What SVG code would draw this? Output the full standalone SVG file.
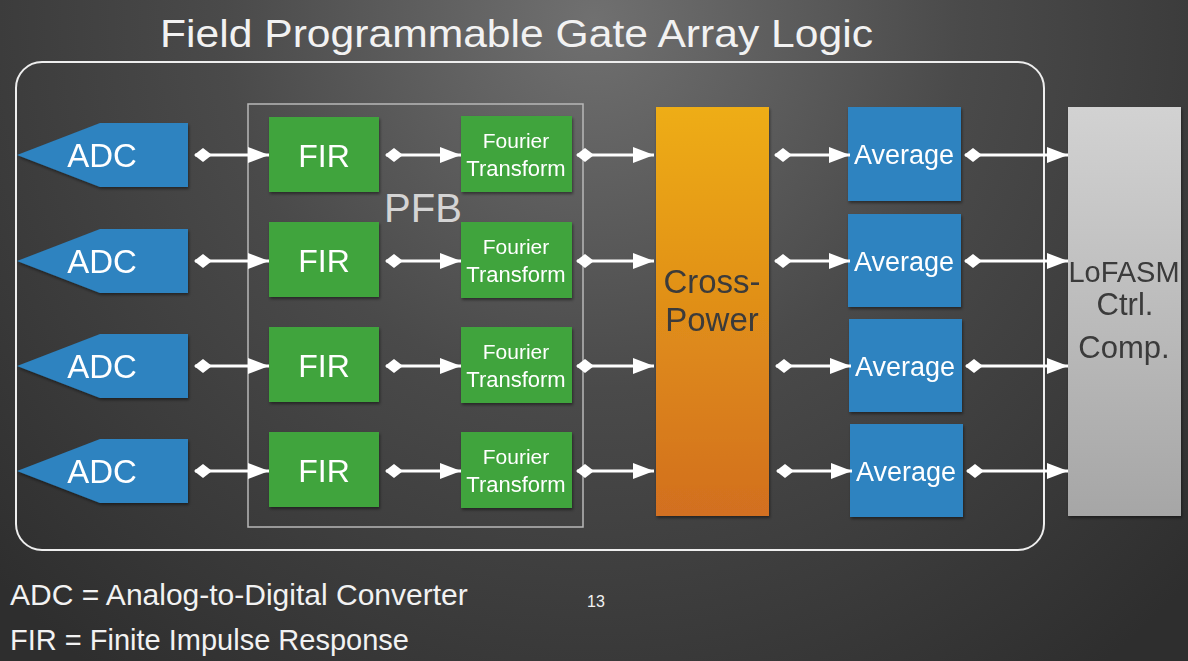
<svg xmlns="http://www.w3.org/2000/svg" width="1188" height="661" viewBox="0 0 1188 661">
<defs>
<radialGradient id="bg" cx="594" cy="20" r="820" gradientUnits="userSpaceOnUse">
<stop offset="0" stop-color="#707070"/>
<stop offset="0.45" stop-color="#4a4a4a"/>
<stop offset="1" stop-color="#2e2e2e"/>
</radialGradient>
<linearGradient id="orange" x1="0" y1="0" x2="0" y2="1">
<stop offset="0" stop-color="#eead12"/>
<stop offset="1" stop-color="#d26f20"/>
</linearGradient>
<linearGradient id="gray" x1="0" y1="0" x2="0" y2="1">
<stop offset="0" stop-color="#d2d2d2"/>
<stop offset="1" stop-color="#a6a6a6"/>
</linearGradient>
<filter id="sh" x="-10%" y="-10%" width="130%" height="130%">
<feDropShadow dx="1" dy="2" stdDeviation="1.5" flood-color="#000" flood-opacity="0.45"/>
</filter>
<marker id="dia" markerUnits="userSpaceOnUse" markerWidth="20" markerHeight="16" refX="2" refY="8" orient="auto" viewBox="0 0 20 16">
<path d="M1,8 L10,1 L19,8 L10,15 Z" fill="#ffffff"/>
</marker>
<marker id="arr" markerUnits="userSpaceOnUse" markerWidth="22" markerHeight="18" refX="21" refY="9" orient="auto" viewBox="0 0 22 18">
<path d="M0,1 L21,9 L0,17 Z" fill="#ffffff"/>
</marker>
<style>
.lbl{font-family:"Liberation Sans",Arial,sans-serif;fill:#ffffff;text-anchor:middle}
.dark{font-family:"Liberation Sans",Arial,sans-serif;fill:#3a3a3a;text-anchor:middle}
.blue{fill:#2d83c0}
.green{fill:#41a43d}
.conn line{stroke:#ffffff;stroke-width:3;marker-start:url(#dia);marker-end:url(#arr)}
.note{font-family:"Liberation Sans",Arial,sans-serif;fill:#f2f2f2}
</style>
</defs>
<rect width="1188" height="661" fill="url(#bg)"/>
<text class="note" x="160" y="47" font-size="39" fill="#ececec" textLength="713" lengthAdjust="spacingAndGlyphs">Field Programmable Gate Array Logic</text>
<rect id="fpga" x="16" y="62" width="1028" height="488" rx="26" fill="none" stroke="#eeeeee" stroke-width="2"/>
<g id="pfb">
<rect x="248" y="104" width="335" height="423" fill="none" stroke="#b8b8b8" stroke-width="1.5"/>
<text x="423" y="222" font-size="40" font-family="Liberation Sans,Arial,sans-serif" fill="#d4d4d4" text-anchor="middle">PFB</text>
</g>
<g id="adc1" filter="url(#sh)"><path class="blue" d="M17,155 L100,123 L188,123 L188,187 L100,187 Z"/><text class="lbl" x="102" y="167" font-size="33">ADC</text></g>
<g id="adc2" filter="url(#sh)"><path class="blue" d="M17,261 L100,229 L188,229 L188,293 L100,293 Z"/><text class="lbl" x="102" y="273" font-size="33">ADC</text></g>
<g id="adc3" filter="url(#sh)"><path class="blue" d="M17,366 L100,334 L188,334 L188,398 L100,398 Z"/><text class="lbl" x="102" y="378" font-size="33">ADC</text></g>
<g id="adc4" filter="url(#sh)"><path class="blue" d="M17,471 L100,439 L188,439 L188,503 L100,503 Z"/><text class="lbl" x="102" y="483" font-size="33">ADC</text></g>
<g id="fir1" filter="url(#sh)"><rect class="green" x="269" y="117" width="110" height="75"/><text class="lbl" x="324" y="167" font-size="32">FIR</text></g>
<g id="fir2" filter="url(#sh)"><rect class="green" x="269" y="222" width="110" height="75"/><text class="lbl" x="324" y="272" font-size="32">FIR</text></g>
<g id="fir3" filter="url(#sh)"><rect class="green" x="269" y="327" width="110" height="75"/><text class="lbl" x="324" y="377" font-size="32">FIR</text></g>
<g id="fir4" filter="url(#sh)"><rect class="green" x="269" y="432" width="110" height="75"/><text class="lbl" x="324" y="482" font-size="32">FIR</text></g>
<g id="ft1" filter="url(#sh)"><rect class="green" x="461" y="116" width="111" height="76"/><text class="lbl" x="516" y="148" font-size="21">Fourier</text><text class="lbl" x="516" y="176" font-size="22">Transform</text></g>
<g id="ft2" filter="url(#sh)"><rect class="green" x="461" y="222" width="111" height="76"/><text class="lbl" x="516" y="254" font-size="21">Fourier</text><text class="lbl" x="516" y="282" font-size="22">Transform</text></g>
<g id="ft3" filter="url(#sh)"><rect class="green" x="461" y="327" width="111" height="76"/><text class="lbl" x="516" y="359" font-size="21">Fourier</text><text class="lbl" x="516" y="387" font-size="22">Transform</text></g>
<g id="ft4" filter="url(#sh)"><rect class="green" x="461" y="432" width="111" height="76"/><text class="lbl" x="516" y="464" font-size="21">Fourier</text><text class="lbl" x="516" y="492" font-size="22">Transform</text></g>
<g id="crosspower" filter="url(#sh)"><rect x="656" y="107" width="113" height="409" fill="url(#orange)"/><text class="dark" x="712" y="293" font-size="33">Cross-</text><text class="dark" x="712" y="331" font-size="33">Power</text></g>
<g id="avg1" filter="url(#sh)"><rect class="blue" x="848" y="107" width="113" height="94"/><text class="lbl" x="904" y="164" font-size="27">Average</text></g>
<g id="avg2" filter="url(#sh)"><rect class="blue" x="848" y="214" width="113" height="93"/><text class="lbl" x="904" y="271" font-size="27">Average</text></g>
<g id="avg3" filter="url(#sh)"><rect class="blue" x="849" y="319" width="113" height="93"/><text class="lbl" x="905" y="376" font-size="27">Average</text></g>
<g id="avg4" filter="url(#sh)"><rect class="blue" x="850" y="424" width="113" height="93"/><text class="lbl" x="906" y="481" font-size="27">Average</text></g>
<g id="lofasm" filter="url(#sh)"><rect x="1068" y="107" width="113" height="409" fill="url(#gray)"/><text class="dark" x="1124" y="282" font-size="29">LoFASM</text><text class="dark" x="1125" y="315" font-size="31">Ctrl.</text><text class="dark" x="1124" y="358" font-size="31">Comp.</text></g>
<g id="connectors" class="conn">
<line x1="195" y1="155" x2="269" y2="155"/>
<line x1="195" y1="261" x2="269" y2="261"/>
<line x1="195" y1="366" x2="269" y2="366"/>
<line x1="195" y1="471" x2="269" y2="471"/>
<line x1="386" y1="155" x2="461" y2="155"/>
<line x1="386" y1="261" x2="461" y2="261"/>
<line x1="386" y1="366" x2="461" y2="366"/>
<line x1="386" y1="471" x2="461" y2="471"/>
<line x1="577" y1="155" x2="654" y2="155"/>
<line x1="577" y1="261" x2="654" y2="261"/>
<line x1="577" y1="366" x2="654" y2="366"/>
<line x1="577" y1="471" x2="654" y2="471"/>
<line x1="775" y1="155" x2="850" y2="155"/>
<line x1="775" y1="261" x2="850" y2="261"/>
<line x1="776" y1="366" x2="851" y2="366"/>
<line x1="777" y1="471" x2="852" y2="471"/>
<line x1="965" y1="155" x2="1068" y2="155"/>
<line x1="965" y1="261" x2="1068" y2="261"/>
<line x1="966" y1="366" x2="1068" y2="366"/>
<line x1="967" y1="471" x2="1068" y2="471"/>
</g>
<text class="note" x="10" y="605" font-size="30">ADC = Analog-to-Digital Converter</text>
<text class="note" x="10" y="650" font-size="29">FIR = Finite Impulse Response</text>
<text class="note" x="587" y="607" font-size="16">13</text>
</svg>
